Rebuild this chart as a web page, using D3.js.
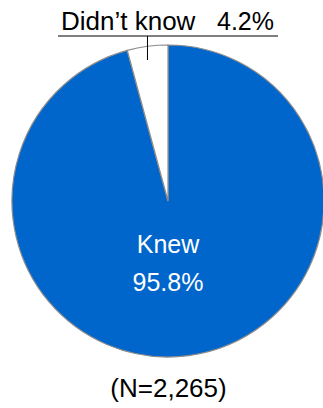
<!DOCTYPE html>
<html><head><meta charset="utf-8">
<script src="https://cdn.jsdelivr.net/npm/d3@7"></script>
<style>html,body{margin:0;padding:0;background:#fff;}svg{display:block;}</style>
</head><body>
<script>
const categories = ["Knew", "Didn’t know"];
const values = [95.8, 4.2];
const labels = ["95.8%", "4.2%"];
const sampleNote = "(N=2,265)";

const W = 323, H = 408;
const cx = 168, cy = 201, R = 156;
const font = "'Liberation Sans', Arial, Helvetica, sans-serif";

const svg = d3.select("body").append("svg").attr("width", W).attr("height", H);
const data = categories.map((c, i) => ({ cat: c, value: values[i], label: labels[i] }));
const pie = d3.pie().sort(null).value(d => d.value).startAngle(0).endAngle(2 * Math.PI);
const arc = d3.arc().innerRadius(0).outerRadius(R);
const color = d3.scaleOrdinal().domain(categories).range(["#0066cc", "#ffffff"]);

const g = svg.append("g").attr("transform", `translate(${cx},${cy})`);
const arcs = pie(data);
g.selectAll("path").data(arcs).join("path")
  .attr("d", arc)
  .attr("fill", d => color(d.data.cat))
  .attr("stroke", "#8c8c8c")
  .attr("stroke-width", 1.2);

// Inside label for Knew
const knew = arcs[0];
g.append("text").attr("x", 0).attr("y", 52).attr("text-anchor", "middle")
  .attr("font-family", font).attr("font-size", 25).attr("fill", "#fff").text(knew.data.cat);
g.append("text").attr("x", 0).attr("y", 90).attr("text-anchor", "middle")
  .attr("font-family", font).attr("font-size", 25).attr("fill", "#fff").text(knew.data.label);

// Outside label for Didn't know with leader
const dk = arcs[1];
const mid = (dk.startAngle + dk.endAngle) / 2;
const lx = cx + Math.sin(mid) * R;
svg.append("line").attr("x1", lx).attr("x2", lx).attr("y1", 36).attr("y2", 60)
  .attr("stroke", "#000").attr("stroke-width", 1);
svg.append("line").attr("x1", 58).attr("x2", 278).attr("y1", 36).attr("y2", 36)
  .attr("stroke", "#000").attr("stroke-width", 1.2);
svg.append("text").attr("x", 61).attr("y", 30).attr("text-anchor", "start")
  .attr("font-family", font).attr("font-size", 26).attr("fill", "#000").text(dk.data.cat);
svg.append("text").attr("x", 274).attr("y", 30).attr("text-anchor", "end")
  .attr("font-family", font).attr("font-size", 25).attr("fill", "#000").text(dk.data.label);

svg.append("text").attr("x", 168.5).attr("y", 397).attr("text-anchor", "middle")
  .attr("font-family", font).attr("font-size", 26).attr("fill", "#000").text(sampleNote);
</script>
</body></html>
